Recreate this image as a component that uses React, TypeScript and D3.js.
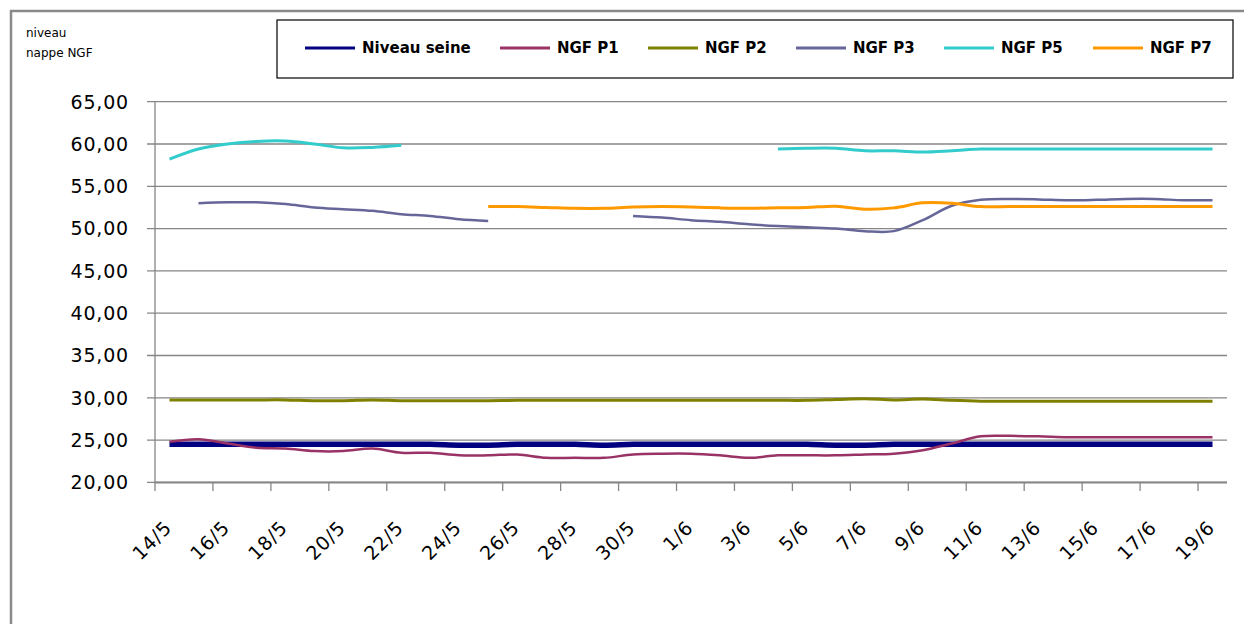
import React from 'react';
import * as d3 from 'd3';

const categories = ['14/5','15/5','16/5','17/5','18/5','19/5','20/5','21/5','22/5','23/5','24/5','25/5','26/5','27/5','28/5','29/5','30/5','31/5','1/6','2/6','3/6','4/6','5/6','6/6','7/6','8/6','9/6','10/6','11/6','12/6','13/6','14/6','15/6','16/6','17/6','18/6','19/6'];

const yTicks = [20, 25, 30, 35, 40, 45, 50, 55, 60, 65];

const seine = [24.5,24.5,24.5,24.5,24.5,24.5,24.5,24.5,24.5,24.5,24.4,24.4,24.5,24.5,24.5,24.4,24.5,24.5,24.5,24.5,24.5,24.5,24.5,24.4,24.4,24.5,24.5,24.5,24.5,24.5,24.5,24.5,24.5,24.5,24.5,24.5,24.5];
const p1 = [24.8,25.1,24.6,24.1,24.0,23.7,23.7,24.0,23.5,23.5,23.2,23.2,23.3,22.9,22.9,22.9,23.3,23.4,23.4,23.2,22.9,23.2,23.2,23.2,23.3,23.4,23.8,24.6,25.45,25.5,25.45,25.35,25.35,25.35,25.35,25.35,25.35];
const p2 = [29.75,29.75,29.75,29.75,29.75,29.65,29.65,29.75,29.65,29.65,29.65,29.65,29.7,29.7,29.7,29.7,29.7,29.7,29.7,29.7,29.7,29.7,29.7,29.8,29.9,29.75,29.85,29.7,29.6,29.6,29.6,29.6,29.6,29.6,29.6,29.6,29.6];
const p3 = [null,53.0,53.1,53.1,52.9,52.5,52.3,52.1,51.7,51.5,51.1,50.9,null,null,null,null,51.5,51.3,51.0,50.8,50.5,50.3,50.15,50.0,49.7,49.7,51.0,52.7,53.4,53.5,53.45,53.35,53.4,53.5,53.5,53.35,53.35];
const p5 = [58.2,59.4,60.0,60.3,60.35,60.0,59.55,59.6,59.85,null,null,null,null,null,null,null,null,null,null,null,null,59.4,59.5,59.5,59.2,59.2,59.05,59.2,59.4,59.4,59.4,59.4,59.4,59.4,59.4,59.4,59.4];
const p7 = [null,null,null,null,null,null,null,null,null,null,null,52.6,52.6,52.5,52.4,52.4,52.55,52.6,52.55,52.45,52.4,52.45,52.5,52.65,52.3,52.45,53.05,53.0,52.6,52.6,52.6,52.6,52.6,52.6,52.6,52.6,52.6];

const seriesNames = ['Niveau seine', 'NGF P1', 'NGF P2', 'NGF P3', 'NGF P5', 'NGF P7'];
const seriesColors = ['#000080', '#993366', '#808000', '#666699', '#33CCCC', '#FF9900'];
const seriesWidths = [5.5, 2.5, 3, 2.5, 3, 3];
const seriesData = [seine, p1, p2, p3, p5, p7];

const legendLineX = [305, 500, 648, 796, 944, 1093];

export default function App() {
  const left = 155, right = 1227, top = 101.7, bottom = 482.4;
  const x = d3.scaleBand<string>().domain(categories).range([left, right]);
  const y = d3.scaleLinear().domain([20, 65]).range([bottom, top]);
  const cx = (i: number) => (x(categories[i]) as number) + x.bandwidth() / 2;
  const line = d3.line<number | null>()
    .defined(d => d !== null)
    .x((_, i) => cx(i))
    .y(d => y(d as number))
    .curve(d3.curveCatmullRom.alpha(0.5));

  const font = '"DejaVu Sans", Verdana, sans-serif';
  const tickIdx = categories.map((_, i) => i).filter(i => i % 2 === 0);

  return (
    <svg width={1244} height={624} style={{ position: 'absolute', left: 0, top: 0, background: '#fff' }}>
      <rect x={0} y={0} width={1244} height={624} fill="#fff" />
      <rect x={11} y={11} width={1250} height={640} fill="none" stroke="#8a8a8a" strokeWidth={2.5} />
      <text x={26} y={37} fontFamily={font} fontSize={12} fill="#000">niveau</text>
      <text x={26} y={57} fontFamily={font} fontSize={12} fill="#000">nappe NGF</text>

      {/* legend */}
      <rect x={277} y={20} width={956} height={58} fill="#fff" stroke="#000" strokeWidth={1.2} />
      {seriesNames.map((n, k) => (
        <g key={n}>
          <line x1={legendLineX[k]} x2={legendLineX[k] + 50} y1={48} y2={48} stroke={seriesColors[k]} strokeWidth={3} />
          <text x={legendLineX[k] + 57} y={48} dy="0.36em" fontFamily={font} fontSize={15} fontWeight="bold" fill="#000">{n}</text>
        </g>
      ))}

      {/* gridlines & y axis */}
      {yTicks.map(t => (
        <g key={t}>
          <line x1={147} x2={right} y1={y(t)} y2={y(t)} stroke="#868686" strokeWidth={1.3} />
          <text x={129} y={y(t)} dy="0.36em" textAnchor="end" fontFamily={font} fontSize={19} letterSpacing={0.8} fill="#000">
            {t.toFixed(2).replace('.', ',')}
          </text>
        </g>
      ))}
      <line x1={left} x2={left} y1={top} y2={bottom} stroke="#868686" strokeWidth={1.3} />
      <line x1={left} x2={right} y1={bottom} y2={bottom} stroke="#868686" strokeWidth={2} />
      {tickIdx.map(i => (
        <line key={'t' + i} x1={x(categories[i]) as number} x2={x(categories[i]) as number} y1={bottom} y2={491} stroke="#868686" strokeWidth={1.3} />
      ))}
      {tickIdx.map(i => (
        <text key={'l' + i} transform={`translate(${cx(i) - 1.5},${524}) rotate(-45)`} textAnchor="end" dy="0.36em"
          fontFamily={font} fontSize={19} letterSpacing={0.8} fill="#000">{categories[i]}</text>
      ))}

      {/* series */}
      {seriesData.map((s, k) => (
        <path key={seriesNames[k]} d={line(s) || ''} fill="none" stroke={seriesColors[k]} strokeWidth={seriesWidths[k]} strokeLinejoin="round" />
      ))}
    </svg>
  );
}
